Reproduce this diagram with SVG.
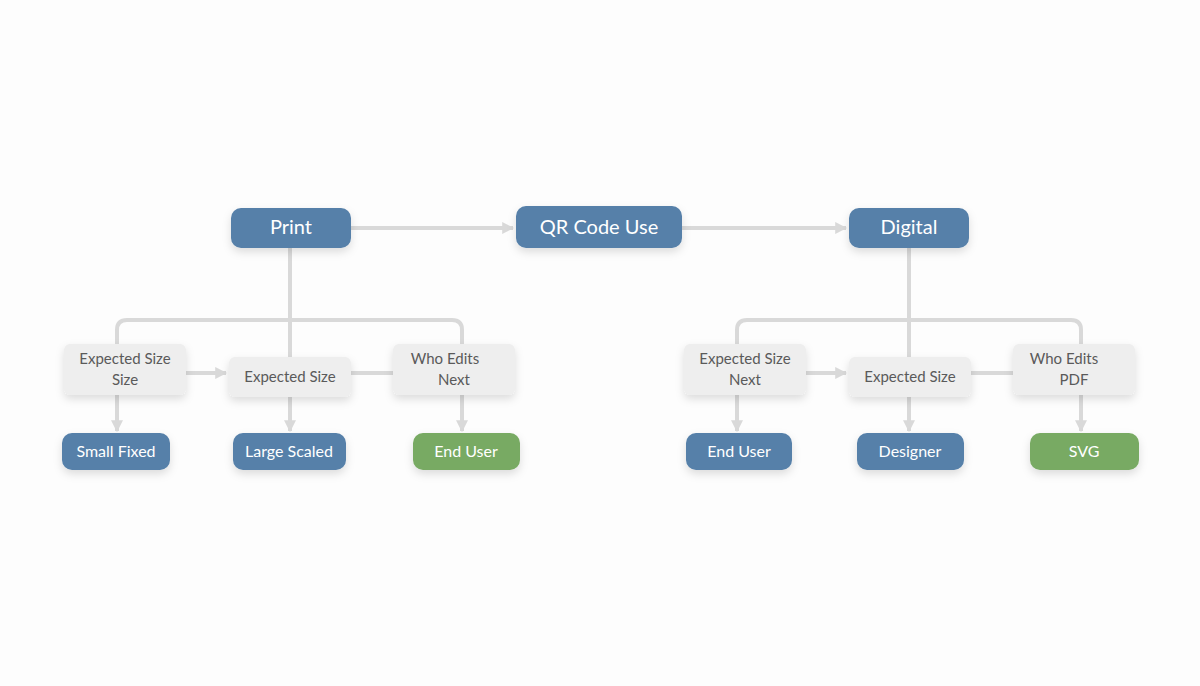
<svg xmlns="http://www.w3.org/2000/svg" width="1200" height="686" viewBox="0 0 1200 686">
<defs>
<filter id="sh" x="-20%" y="-30%" width="140%" height="170%">
<feDropShadow dx="0" dy="4" stdDeviation="4" flood-color="#000" flood-opacity="0.13"/>
</filter>
<marker id="ah" viewBox="0 0 10 10" refX="9" refY="5" markerWidth="3" markerHeight="3" orient="auto" markerUnits="strokeWidth">
<path d="M0,0 L10,5 L0,10 z" fill="#d9d9d9"/>
</marker>
<style>
.blue{fill:#5680a9;filter:url(#sh)}
.green{fill:#78aa63;filter:url(#sh)}
.gray{fill:#eeeeee;filter:url(#sh)}
.tw{fill:#fff;font-family:Lato,"Open Sans",sans-serif;text-anchor:middle}
.tg{fill:#5a5a5a;font-family:Lato,"Open Sans",sans-serif;text-anchor:middle;font-size:15px}
.c{fill:none;stroke:#d9d9d9;stroke-width:4}
</style>
</defs>
<rect width="1200" height="686" fill="#fdfdfd"/>
<g id="connectors">
<line class="c" x1="351" y1="228" x2="513" y2="228" marker-end="url(#ah)"/>
<line class="c" x1="682" y1="228" x2="846" y2="228" marker-end="url(#ah)"/>
<line class="c" x1="290" y1="248" x2="290" y2="357"/>
<path class="c" d="M117,344 V330 Q117,320 127,320 H452 Q462,320 462,330 V344"/>
<line class="c" x1="186" y1="373" x2="226" y2="373" marker-end="url(#ah)"/>
<line class="c" x1="351" y1="373" x2="393" y2="373"/>
<line class="c" x1="117" y1="395" x2="117" y2="431" marker-end="url(#ah)"/>
<line class="c" x1="290" y1="397" x2="290" y2="431" marker-end="url(#ah)"/>
<line class="c" x1="462" y1="395" x2="462" y2="431" marker-end="url(#ah)"/>
<line class="c" x1="909" y1="248" x2="909" y2="357"/>
<path class="c" d="M737,344 V330 Q737,320 747,320 H1071 Q1081,320 1081,330 V344"/>
<line class="c" x1="806" y1="373" x2="846" y2="373" marker-end="url(#ah)"/>
<line class="c" x1="971" y1="373" x2="1013" y2="373"/>
<line class="c" x1="737" y1="395" x2="737" y2="431" marker-end="url(#ah)"/>
<line class="c" x1="909" y1="397" x2="909" y2="431" marker-end="url(#ah)"/>
<line class="c" x1="1081" y1="395" x2="1081" y2="431" marker-end="url(#ah)"/>
</g>
<g id="print"><rect class="blue" x="231" y="208" width="120" height="40" rx="10"/><text class="tw" x="291" y="234" font-size="20">Print</text></g>
<g id="qr"><rect class="blue" x="516" y="206" width="166" height="42" rx="10"/><text class="tw" x="599" y="234" font-size="20">QR Code Use</text></g>
<g id="digital"><rect class="blue" x="849" y="208" width="120" height="40" rx="10"/><text class="tw" x="909" y="234" font-size="20">Digital</text></g>

<g id="l1"><rect class="gray" x="64" y="344" width="122" height="51" rx="6"/><text class="tg" x="125" y="364">Expected Size</text><text class="tg" x="125" y="385">Size</text></g>
<g id="l2"><rect class="gray" x="229" y="357" width="122" height="40" rx="6"/><text class="tg" x="290" y="382">Expected Size</text></g>
<g id="l3"><rect class="gray" x="393" y="344" width="122" height="51" rx="6"/><text class="tg" x="445" y="364">Who Edits</text><text class="tg" x="454" y="385">Next</text></g>

<g id="r1"><rect class="gray" x="684" y="344" width="122" height="51" rx="6"/><text class="tg" x="745" y="364">Expected Size</text><text class="tg" x="745" y="385">Next</text></g>
<g id="r2"><rect class="gray" x="849" y="357" width="122" height="40" rx="6"/><text class="tg" x="910" y="382">Expected Size</text></g>
<g id="r3"><rect class="gray" x="1013" y="344" width="122" height="51" rx="6"/><text class="tg" x="1064" y="364">Who Edits</text><text class="tg" x="1074" y="385">PDF</text></g>

<g id="b1"><rect class="blue" x="62" y="433" width="108" height="37" rx="10"/><text class="tw" x="116" y="457" font-size="16">Small Fixed</text></g>
<g id="b2"><rect class="blue" x="233" y="433" width="113" height="37" rx="10"/><text class="tw" x="289" y="457" font-size="16">Large Scaled</text></g>
<g id="b3"><rect class="green" x="413" y="433" width="107" height="37" rx="10"/><text class="tw" x="466" y="457" font-size="16">End User</text></g>
<g id="b4"><rect class="blue" x="686" y="433" width="106" height="37" rx="10"/><text class="tw" x="739" y="457" font-size="16">End User</text></g>
<g id="b5"><rect class="blue" x="857" y="433" width="107" height="37" rx="10"/><text class="tw" x="910" y="457" font-size="16">Designer</text></g>
<g id="b6"><rect class="green" x="1030" y="433" width="109" height="37" rx="10"/><text class="tw" x="1084" y="457" font-size="16">SVG</text></g>
</svg>
